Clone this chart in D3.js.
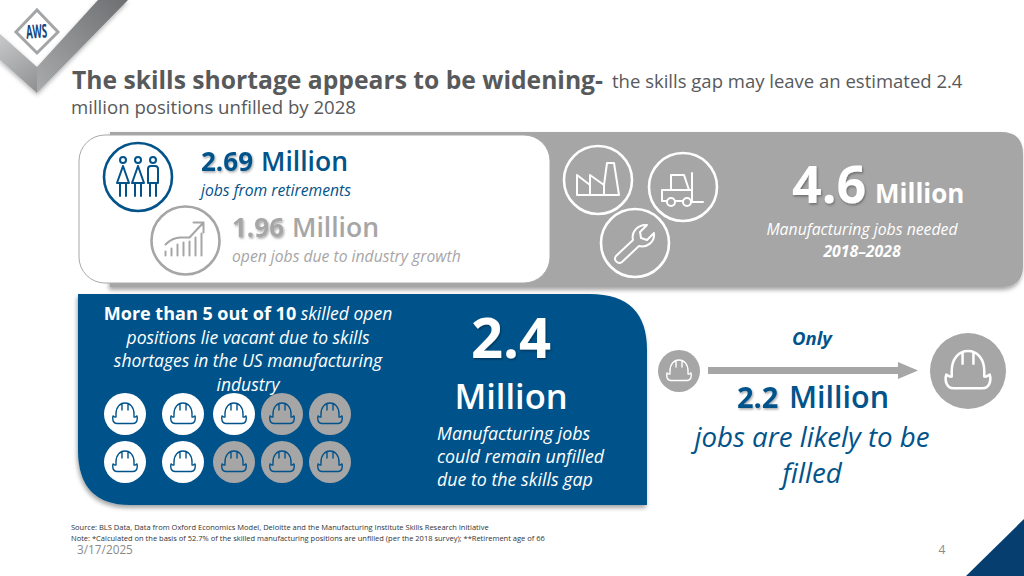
<!DOCTYPE html>
<html lang="en">
<head>
<meta charset="UTF-8">
<title>Skills shortage</title>
<script src="https://cdn.jsdelivr.net/npm/d3@7/dist/d3.min.js"></script>
<style>
    body { margin: 0; padding: 0; background: #fff; }
    svg { display: block; }
    text { font-family: "Open Sans", sans-serif; }
</style>
</head>
<body>
<svg id="chart" width="1024" height="576"></svg>
<script>
// values
var helmetRows = ['r1', 'r1', 'r1', 'r1', 'r1', 'r2', 'r2', 'r2', 'r2', 'r2']
var helmetCols = ['a', 'b', 'c', 'd', 'e', 'a', 'b', 'c', 'd', 'e']
var helmetFilled = [1, 1, 1, 0, 0, 1, 1, 0, 0, 0]
var retirements = '2.69'
var growth = '1.96'
var needed = '4.6'
var unfilled = '2.4'
var filled = '2.2'
var moreThanLines = ['positions lie vacant due to skills', 'shortages in the US manufacturing', 'industry']
var unfilledLines = ['Manufacturing jobs', 'could remain unfilled', 'due to the skills gap']
var footLines = [
    'Source: BLS Data, Data from Oxford Economics Model, Deloitte and the Manufacturing Institute Skills Research Initiative',
    'Note: *Calculated on the basis of 52.7% of the skilled manufacturing positions are unfilled (per the 2018 survey); **Retirement age of 66'
]

var BLUE = '#02538a', GREY = '#a6a6a6', TITLE = '#58595b'
var svg = d3.select('#chart')
var defs = svg.append('defs')

var shadow = (id, dx, dy, blur, op) => {
    var f = defs.append('filter').attr('id', id)
        .attr('x', '-10%').attr('y', '-10%').attr('width', '125%').attr('height', '130%')
    f.append('feDropShadow').attr('dx', dx).attr('dy', dy)
        .attr('stdDeviation', blur).attr('flood-color', '#000').attr('flood-opacity', op)
}
shadow('panel', -1, 3, 2, 0.35)
shadow('num', 1, 1.5, 1, 0.35)
shadow('logo', 0, 2, 2, 0.3)

var grad = (id, x1, y1, x2, y2, c1, c2) => {
    var g = defs.append('linearGradient').attr('id', id)
        .attr('gradientUnits', 'userSpaceOnUse')
        .attr('x1', x1).attr('y1', y1).attr('x2', x2).attr('y2', y2)
    g.append('stop').attr('offset', 0).attr('stop-color', c1)
    g.append('stop').attr('offset', 1).attr('stop-color', c2)
}
grad('bandR', 128, 0, 36, 92, '#6d6f71', '#a9abad')
grad('bandL', 0, 40, 37, 90, '#c4c5c6', '#8f9193')

// text helper, parts are [string, size, weight, style, fill]
var label = (x, y, anchor, parts) => {
    var t = svg.append('text').attr('x', x).attr('y', y).attr('text-anchor', anchor)
    parts.forEach(p => {
        t.append('tspan').attr('font-size', p[1]).attr('font-weight', p[2])
            .attr('font-style', p[3]).attr('fill', p[4]).text(p[0])
    })
    return t
}

// corner logo
var band = svg.append('g').attr('filter', 'url(#logo)')
band.append('path').attr('d', 'M98,0 L128,0 L37,93 L37,67 Z').attr('fill', 'url(#bandR)')
band.append('path').attr('d', 'M0,34 L37,67 L37,93 L0,60 Z').attr('fill', 'url(#bandL)')
svg.append('path').attr('d', 'M37,10 L58,32 L37,53 L16,32 Z')
    .attr('fill', '#fff').attr('stroke', '#a3a5a7').attr('stroke-width', 3)
svg.append('text').attr('transform', 'translate(37,38) rotate(-4) scale(0.68,1.35)')
    .attr('text-anchor', 'middle').attr('font-size', 14).attr('font-weight', 700)
    .attr('fill', '#12447c').text('AWS')

// title
label(72, 89, 'start', [['The skills shortage appears to be widening-', 25.5, 700, 'normal', TITLE]])
    .attr('textLength', 531).attr('lengthAdjust', 'spacingAndGlyphs')
label(612, 88, 'start', [['the skills gap may leave an estimated 2.4', 18.5, 400, 'normal', TITLE]])
label(71, 114, 'start', [['million positions unfilled by 2028', 18.6, 400, 'normal', TITLE]])

// top panels
svg.append('path').attr('filter', 'url(#panel)').attr('fill', GREY)
    .attr('d', 'M110,132 H1001 Q1023,132 1023,154 V266 Q1023,287 1001,287 H110 Z')
svg.append('rect').attr('x', 79).attr('y', 135).attr('width', 471).attr('height', 148)
    .attr('rx', 26).attr('fill', '#fff').attr('stroke', '#a9a9a9').attr('stroke-width', 1)

// blue panel
svg.append('path').attr('filter', 'url(#panel)').attr('fill', BLUE)
    .attr('d', 'M78,294 H590 Q647,294 647,350 V505 H130 Q78,505 78,450 Z')

// icons, all drawn around their own centre
var icon = (cx, cy, r, color, d, extra) => {
    var g = svg.append('g').attr('transform', `translate(${cx},${cy})`)
        .attr('fill', 'none').attr('stroke', color)
    g.append('circle').attr('r', r).attr('stroke-width', 2.6)
    g.append('path').attr('d', d).attr('stroke-width', extra || 2)
        .attr('stroke-linejoin', 'round').attr('stroke-linecap', 'round')
    return g
}

var head = x => `M${x - 3},-17 A3,3 0 1 1 ${x + 3},-17 A3,3 0 1 1 ${x - 3},-17 `
var person = x => head(x) + `M${x},-11 L${x - 6},6 H${x + 6} L${x},-11 M${x - 3},6 V19 M${x + 3},6 V19 `
icon(138, 177, 34, BLUE,
    person(-15) + person(0) + head(15)
    + 'M10,6 V-8 Q10,-11 13,-11 H17 Q20,-11 20,-8 V6 Z M12,6 V19 M18,6 V19', 2)

icon(185.5, 240.5, 34, GREY,
    'M-20,15 V11 M-14,15 V8 M-8,15 V4 M-2,15 V2 M4,15 V1 M10,15 V-3 M16,15 V-7 '
    + 'M-20,4 Q-13,-3 -5,-3 L4,-3 L18,-18 M8,-18 H18 V-8', 2)

icon(598, 180, 34, '#fff',
    'M-21,15 V-5 L-8,5 V-5 L6,5 L9,-17 H16 L21,15 Z M-8,5 V15 M6,5 V15', 2)
icon(683, 187, 34, '#fff',
    'M-21,3 H6 L1,-12 H-12 V3 M-21,3 V14 H-16 M-8,14 H0 M8,14 H9 V3 H6 '
    + 'M9,-14 V15 H20 M-16,15 a4,4 0 1 0 8,0 a4,4 0 1 0 -8,0 M0,15 a4,4 0 1 0 8,0 a4,4 0 1 0 -8,0', 2)
icon(635, 243, 34, '#fff',
    'M-19,13 L-2,-3 C-4,-11 3,-19 12,-18 L5,-11 L6,-5 L12,-3 L19,-10 C20,-1 12,5 4,3 L-13,19 C-17,22 -22,17 -19,13 Z', 2)

// helmets, scaled from the same outline
var helmetPath = 'M-9,3 V0 C-9,-7 -5,-11 0,-11 C5,-11 9,-7 9,0 V3 '
    + 'M-3,-10.5 V-4 M3,-10.5 V-4 '
    + 'M-9,2 C-9,4 -10,3 -12,2 C-13,5 -12,9.5 -8,9.5 H8 C12,9.5 13,5 12,2 C10,3 9,4 9,2'
var helmet = (g, r, disc, line) => {
    g.append('circle').attr('r', r).attr('fill', disc)
    g.append('path').attr('d', helmetPath).attr('fill', 'none').attr('stroke', line)
        .attr('stroke-width', 1.4).attr('stroke-linejoin', 'round').attr('stroke-linecap', 'round')
        .attr('transform', `scale(${r / 21})`)
}

var xCol = d3.scaleOrdinal().domain(['a', 'b', 'c', 'd', 'e']).range([125, 183, 234, 282, 330])
var yRow = d3.scalePoint().domain(['r1', 'r2']).range([414, 462])
var colorOf = d3.scaleOrdinal().domain([1, 0]).range(['#fff', GREY])

svg.append('g').selectAll('g')
    .data(helmetFilled)
    .enter()
    .append('g')
    .attr('transform', (d, i) => `translate(${xCol(helmetCols[i])},${yRow(helmetRows[i])})`)
    .each(function (d) { helmet(d3.select(this), 21, colorOf(d), BLUE) })

helmet(svg.append('g').attr('transform', 'translate(679,371)'), 21, GREY, '#fff')
helmet(svg.append('g').attr('transform', 'translate(968,371)'), 38, GREY, '#fff')

// arrow
svg.append('path').attr('fill', GREY)
    .attr('d', 'M708,367 H898 V362 L918,370.5 L898,379 V374 H708 Z')

// white panel text
label(201, 171, 'start', [[retirements, 26, 700, 'normal', BLUE]]).attr('filter', 'url(#num)')
label(261, 171, 'start', [['Million', 26.5, 600, 'normal', BLUE]])
label(201, 196, 'start', [['jobs from retirements', 15.7, 400, 'italic', BLUE]])
label(232, 237, 'start', [[growth, 26, 700, 'normal', GREY]]).attr('filter', 'url(#num)')
label(292, 237, 'start', [['Million', 26.5, 600, 'normal', GREY]])
label(232, 262, 'start', [['open jobs due to industry growth', 15.7, 400, 'italic', GREY]])

// grey panel text
label(792, 203, 'start', [[needed, 52, 700, 'normal', '#fff']]).attr('filter', 'url(#num)')
label(875, 203, 'start', [['Million', 26, 700, 'normal', '#fff']])
label(862, 235, 'middle', [['Manufacturing jobs needed', 15.8, 400, 'italic', '#fff']])
label(862, 257, 'middle', [['2018–2028', 15.8, 700, 'italic', '#fff']])

// blue panel text
label(248, 320, 'middle', [
    ['More than 5 out of 10', 18, 700, 'normal', '#fff'],
    [' skilled open', 17.5, 400, 'italic', '#fff']
])
svg.append('g').selectAll('text')
    .data(moreThanLines)
    .enter()
    .append('text')
    .attr('x', 248).attr('y', (d, i) => 344 + i * 23.3)
    .attr('text-anchor', 'middle').attr('font-size', 17.5).attr('font-style', 'italic')
    .attr('fill', '#fff').text(d => d)

label(511, 358, 'middle', [[unfilled, 56, 700, 'normal', '#fff']]).attr('filter', 'url(#num)')
label(511, 409, 'middle', [['Million', 34.5, 600, 'normal', '#fff']])
svg.append('g').selectAll('text')
    .data(unfilledLines)
    .enter()
    .append('text')
    .attr('x', 437).attr('y', (d, i) => 440 + i * 23)
    .attr('font-size', 17.8).attr('font-style', 'italic')
    .attr('fill', '#fff').text(d => d)

// right side text
label(812, 345, 'middle', [['Only', 18.5, 700, 'italic', BLUE]])
label(737, 408, 'start', [[filled, 29, 700, 'normal', BLUE]]).attr('filter', 'url(#num)')
label(789, 408, 'start', [['Million', 30.5, 600, 'normal', BLUE]])
label(812, 447, 'middle', [['jobs are likely to be', 27.7, 400, 'italic', BLUE]])
label(812, 483, 'middle', [['filled', 27.7, 400, 'italic', BLUE]])

// footer
svg.append('g').selectAll('text')
    .data(footLines)
    .enter()
    .append('text')
    .attr('x', 71).attr('y', (d, i) => 530 + i * 10.5)
    .attr('font-size', 7.5).attr('fill', '#333').text(d => d)
label(77, 554, 'start', [['3/17/2025', 11.8, 400, 'normal', '#8a8a8a']])
label(942, 554, 'middle', [['4', 12, 400, 'normal', '#8a8a8a']])
svg.append('path').attr('d', 'M966,576 L1024,519 V576 Z').attr('fill', '#063e70')
</script>
</body>
</html>
